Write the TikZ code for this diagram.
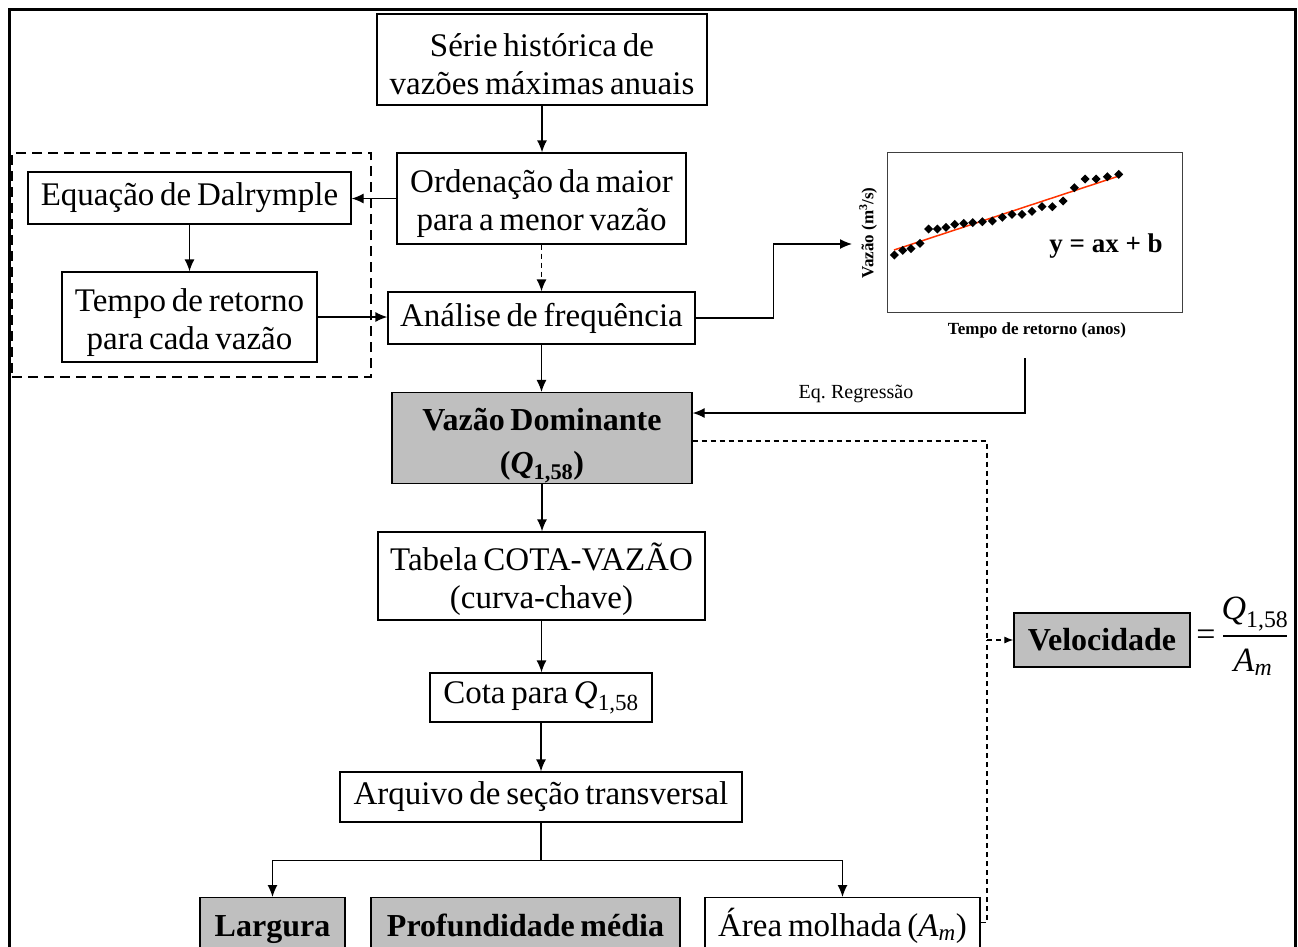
\documentclass[tikz,border=0pt]{standalone}
\usepackage{fontspec}
\setmainfont{Liberation Serif}[WordSpace=0.7]
\newfontfamily\chartfont{Liberation Serif}
\usetikzlibrary{arrows.meta,calc}
\definecolor{boxgray}{HTML}{BFBFBF}
\definecolor{fitred}{HTML}{FF3300}
\newcommand{\topstrut}[1]{\rule{0pt}{#1pt}}
\begin{document}
\begin{tikzpicture}[x=1pt,y=-1pt,
  box/.style={draw,line width=1.3pt,inner sep=0pt,align=center,font=\fontsize{33}{38}\selectfont},
  graybox/.style={box,fill=boxgray,font=\fontsize{32}{38}\selectfont\bfseries},
  arr/.style={-{Latex[length=12pt,width=10pt]},line width=1.3pt},
  dsh/.style={line width=1.1pt,dash pattern=on 5pt off 4pt},
  grp/.style={draw,line width=2.8pt,dash pattern=on 10pt off 6pt,inner sep=0pt},
  chartlbl/.style={font=\chartfont\fontsize{17}{20}\selectfont\bfseries,inner sep=0pt},
  fractxt/.style={inner sep=0pt,font=\fontsize{34}{40}\selectfont}
]
\useasboundingbox (0,0) rectangle (1298,946);
% outer frame
\draw[line width=3pt] (9,990) -- (9,9) -- (1295,9) -- (1295,990);

% main column
\node[box,minimum width=330pt,minimum height=91pt] (serie) at (542,59.5) {\topstrut{33}Série histórica de\\vazões máximas anuais};
\node[box,minimum width=289pt,minimum height=91pt] (orden) at (541.5,198.5) {\topstrut{34}Ordenação da maior\\para a menor vazão};
\node[box,minimum width=307pt,minimum height=52pt] (analise) at (541.5,318) {Análise de frequência};
\node[graybox,minimum width=300pt,minimum height=90pt,font=\fontsize{32}{43}\selectfont\bfseries] (vd) at (542,438) {\topstrut{38}Vazão Dominante\\(\textit{Q}\textsubscript{1,58})};
\node[box,minimum width=327pt,minimum height=88pt] (tabela) at (541.5,576) {\topstrut{34}Tabela COTA-VAZÃO\\(curva-chave)};
\node[box,minimum width=222pt,minimum height=49pt] (cota) at (541,697.5) {Cota para \textit{Q}\textsubscript{1,58}};
\node[box,minimum width=402pt,minimum height=50pt] (arquivo) at (541,797) {Arquivo de seção transversal};

% left group
\node[grp,minimum width=359pt,minimum height=224pt] (group) at (191.5,265) {};
\node[box,minimum width=323pt,minimum height=52pt] (dalry) at (189.5,198) {Equação de Dalrymple};
\node[box,minimum width=255pt,minimum height=90pt] (tempo) at (189.5,317) {\topstrut{34}Tempo de retorno\\para cada vazão};

% bottom boxes
\node[graybox,anchor=north,minimum width=145pt,minimum height=62pt,text height=23pt,text depth=7pt] (largura) at (272.5,897) {Largura};
\node[graybox,anchor=north,minimum width=309pt,minimum height=62pt,text height=23pt,text depth=7pt] (profund) at (525.5,897) {Profundidade média};
\node[box,anchor=north,minimum width=275pt,minimum height=62pt,text height=23pt,text depth=7pt] (area) at (842.5,897) {Área molhada (\textit{A}\textsubscript{\textit{m}})};

% velocity
\node[graybox,minimum width=176pt,minimum height=54pt] (velo) at (1102,640) {Velocidade};
\node[fractxt] (eqsign) at (1206,638) {=};
\node[fractxt] (num) at (1255,614) {\textit{Q}\textsubscript{1,58}};
\node[fractxt] (den) at (1253,662) {\textit{A}\textsubscript{\textit{m}}};
\draw[line width=1.3pt] (1223,636) coordinate (barl) -- (1287,636) coordinate (barr);

% chart
\node[draw=black!75,line width=1pt,minimum width=295pt,minimum height=160pt,inner sep=0pt] (plot) at (1034.5,232) {};
\draw[fitred,line width=1.5pt] (894,250) -- (1119,176);
\foreach \px/\py in {894.3/255,902.7/250.3,911/248.7,920/243.3,928.7/229,937.3/229,946/227.3,954.7/224.3,963.7/223.3,972.7/222.7,982.3/221.7,992.3/221,1002.3/217.3,1012/214.3,1022/214.3,1032/211.3,1042/206.7,1052.3/206.7,1063/201,1074.3/187.7,1085/179,1096/179,1107.3/176.7,1118.7/174.3}
  \fill (\px,\py) +(0,-4.5) -- +(4.5,0) -- +(0,4.5) -- +(-4.5,0) -- cycle;
\node[chartlbl,rotate=90] (ylab) at (868,233) {Vazão (m\textsuperscript{3}/s)};
\node[chartlbl] (xlab) at (1037,330) {Tempo de retorno (anos)};
\node[inner sep=0pt,font=\chartfont\fontsize{27}{32}\selectfont\bfseries] (yeq) at (1106,246) {y = ax + b};
\coordinate (chartin) at (852,244);
\coordinate (regin) at (1025,358);
\coordinate (dv) at (987,640);

% connectors
\draw[arr] (serie.south) -- (serie.south |- orden.north);
\draw[arr,dash pattern=on 5pt off 4pt] (orden.south) -- (orden.south |- analise.north);
\draw[arr] (orden.west) -- (orden.west -| dalry.east);
\draw[arr] (dalry.south) -- (dalry.south |- tempo.north);
\draw[arr] (tempo.east) -- (tempo.east -| analise.west);
\draw[arr] (analise.east) -- ++(78,0) |- (chartin);
\draw[arr] (analise.south) -- (analise.south |- vd.north);
\draw[arr] (regin) |- ([yshift=25pt]vd.east);
\node[inner sep=0pt,font=\fontsize{20}{24}\selectfont] (eqreg) at (856,394) {Eq. Regressão};
\draw[arr] (vd.south) -- (vd.south |- tabela.north);
\draw[arr] (tabela.south) -- (tabela.south |- cota.north);
\draw[arr] (cota.south) -- (cota.south |- arquivo.north);
\draw[line width=1.3pt] (arquivo.south) -- ++(0,38) coordinate (br);
\draw[arr] (br) -| (largura.north);
\draw[arr] (br) -| (area.north);

% dashed velocity links
\draw[dsh] ([yshift=-3pt]vd.east) -| (dv);
\draw[dsh] ([yshift=6pt]area.east) -| (dv);
\draw[dsh,-{Latex[length=9pt,width=7pt]}] (dv) -- (velo.west);
\end{tikzpicture}
\end{document}
